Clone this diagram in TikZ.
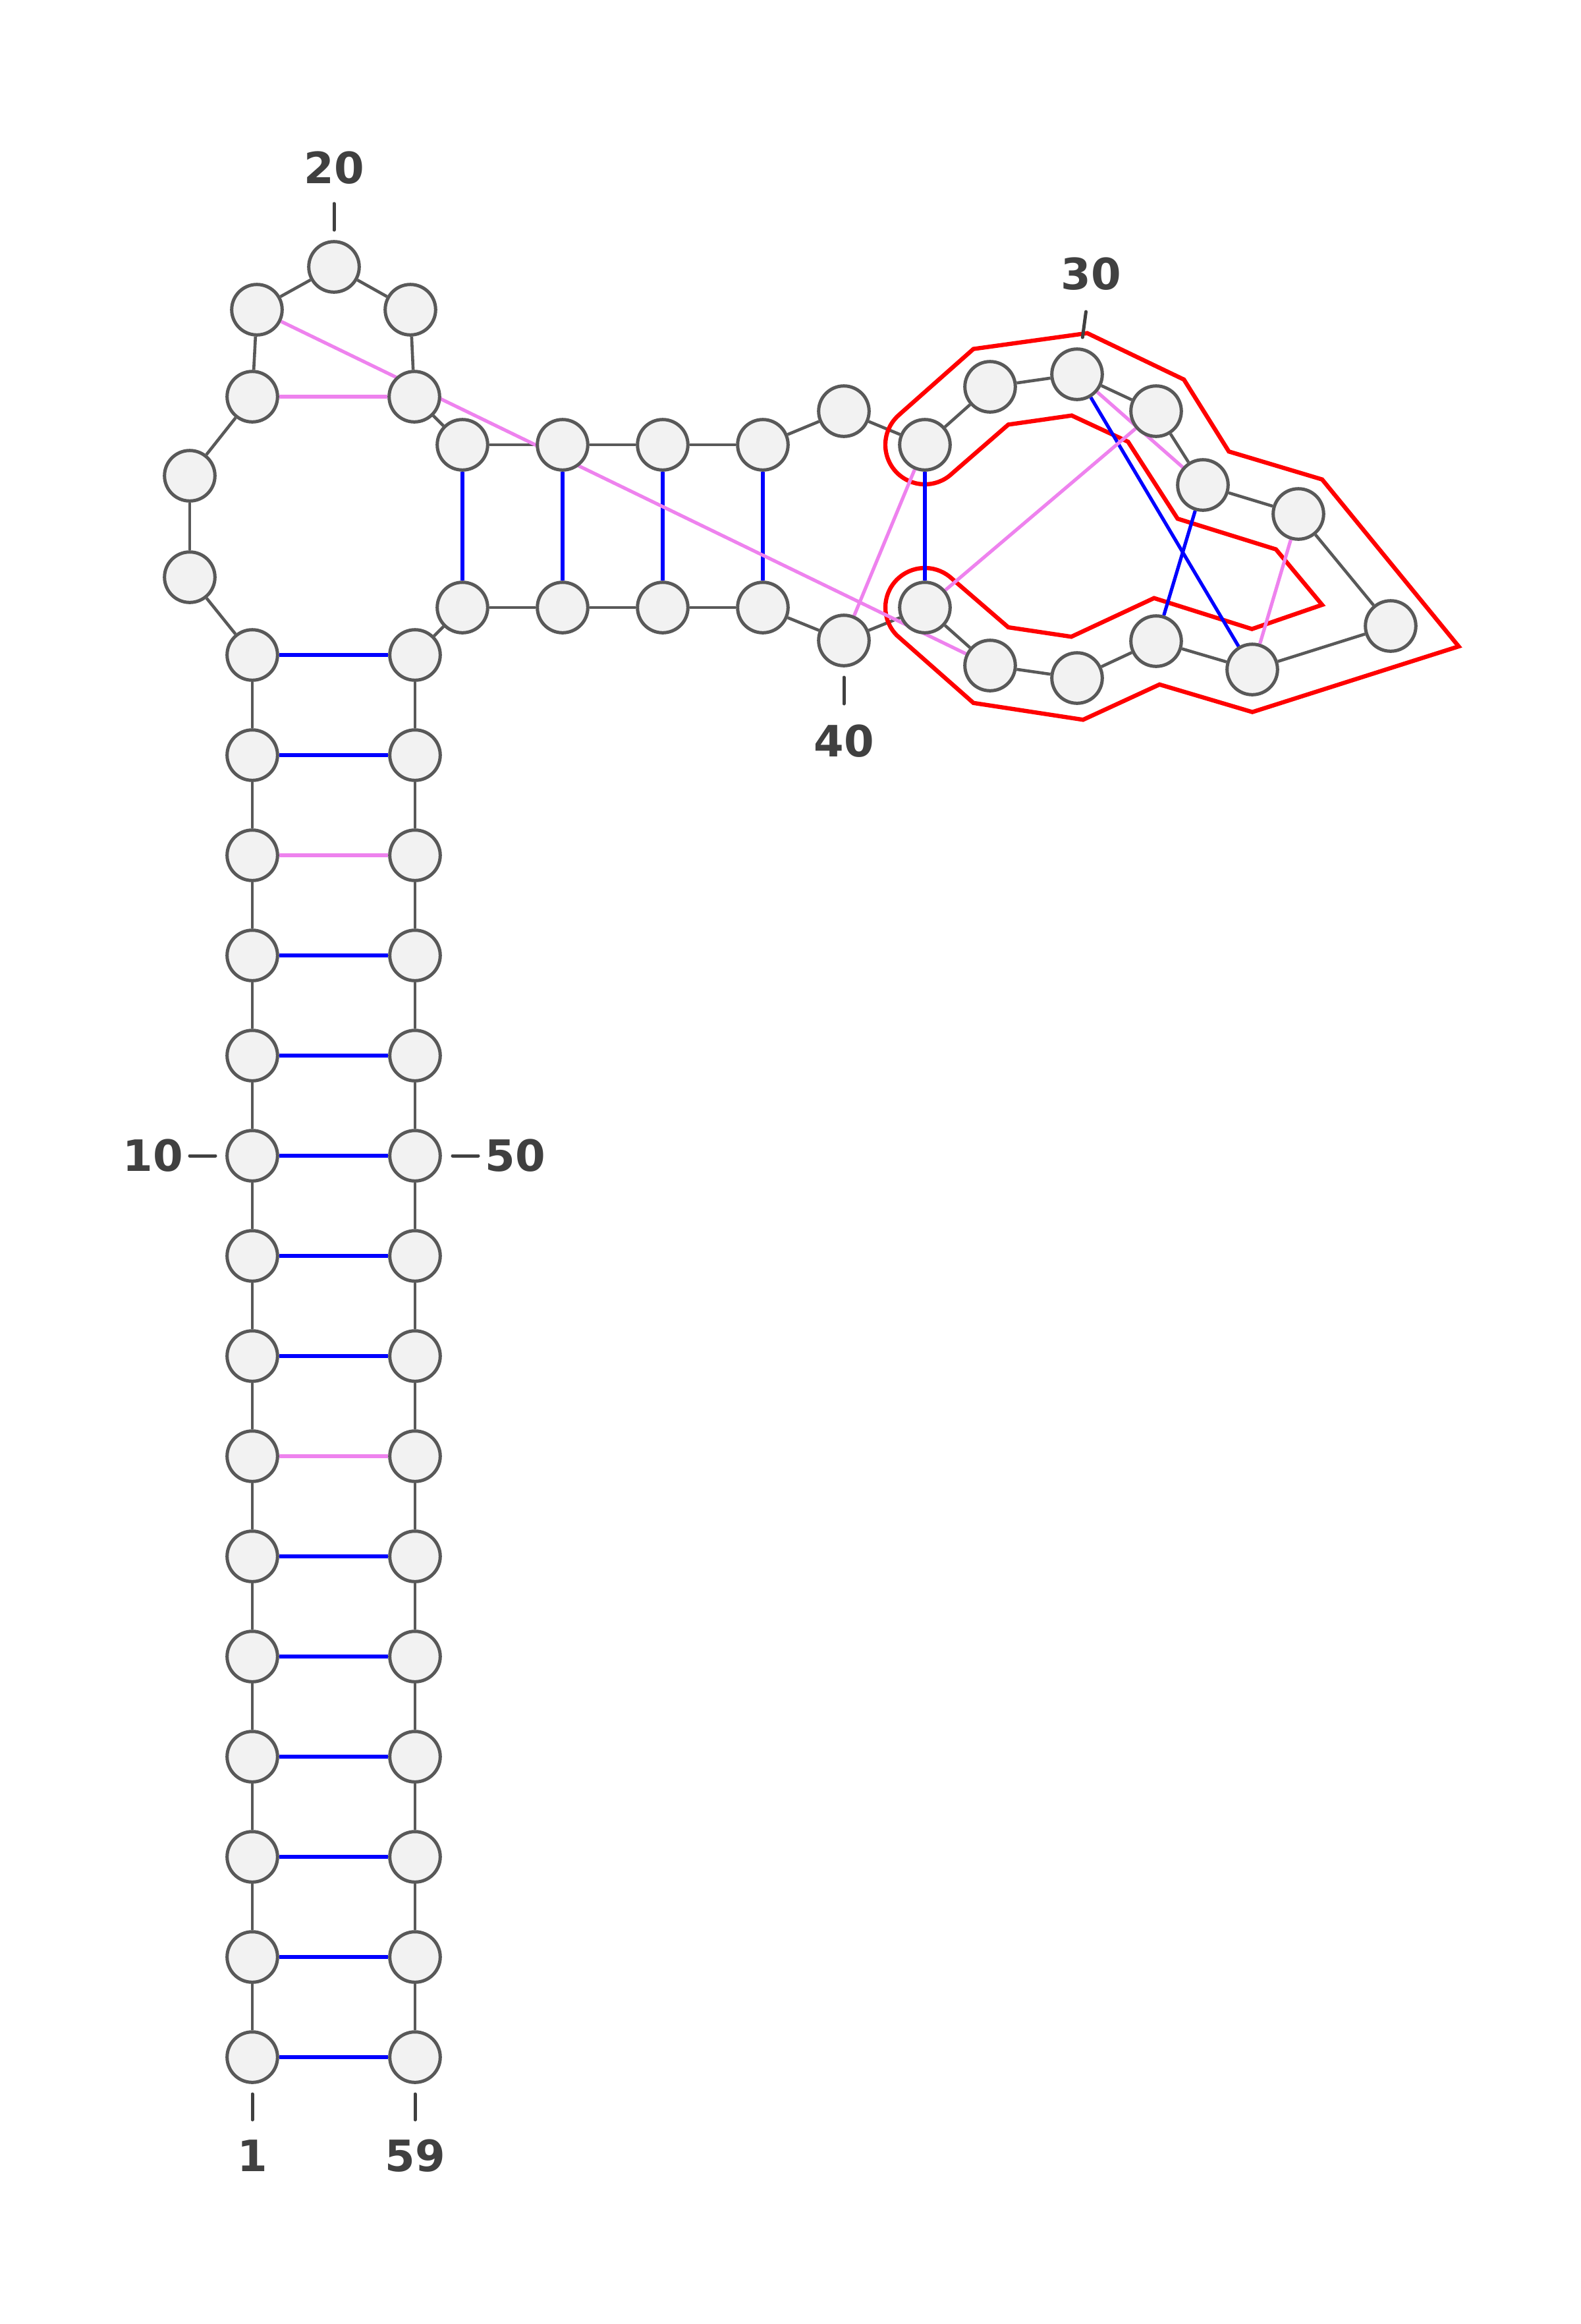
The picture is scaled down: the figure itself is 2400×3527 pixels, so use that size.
\documentclass[tikz,border=0pt]{standalone}
\usepackage{fontspec}
\newfontfamily\lblfont{DejaVu Sans}
\definecolor{nfill}{HTML}{F2F2F2}
\definecolor{ndraw}{HTML}{595959}
\definecolor{lblc}{HTML}{404040}
\definecolor{pblue}{HTML}{0000FF}
\definecolor{pviolet}{HTML}{EE82EE}
\definecolor{pred}{HTML}{FF0000}
\pgfdeclarelayer{bg}
\pgfsetlayers{bg,main}
\begin{document}
\begin{tikzpicture}[x=0.25pt,y=-0.25pt,
  nt/.style={circle,draw=ndraw,fill=nfill,line width=1.25pt,minimum size=19.15pt,inner sep=0pt},
  bb/.style={draw=ndraw,line width=1.15pt},
  wc/.style={draw=pblue,line width=1.3pt},
  nc/.style={draw=pviolet,line width=1.3pt},
  pk/.style={draw=pred,line width=1.6pt,line join=miter},
  tk/.style={draw=lblc,line width=1.25pt,line cap=round},
  lb/.style={text=lblc,font=\lblfont\bfseries\fontsize{16.4pt}{19pt}\selectfont,inner sep=0pt}]
\useasboundingbox (0,0) rectangle (2400,3527);
% nucleotides
\foreach \i in {1,...,15} \node[nt] (n\i) at (383,{3122-(\i-1)*152}) {};
\foreach \i in {45,...,59} \node[nt] (n\i) at (630,{994+(\i-45)*152}) {};
\node[nt] (n16) at (288,876) {};
\node[nt] (n17) at (288,722) {};
\node[nt] (n18) at (383,602) {};
\node[nt] (n19) at (390,470) {};
\node[nt] (n20) at (507,405) {};
\node[nt] (n21) at (623,470) {};
\node[nt] (n22) at (629,602) {};
\node[nt] (n23) at (702,675) {};
\node[nt] (n24) at (854,675) {};
\node[nt] (n25) at (1006,675) {};
\node[nt] (n26) at (1158,675) {};
\node[nt] (n27) at (1281,624) {};
\node[nt] (n28) at (1404,675) {};
\node[nt] (n29) at (1503,587) {};
\node[nt] (n30) at (1635,568) {};
\node[nt] (n31) at (1755,624) {};
\node[nt] (n32) at (1826,736) {};
\node[nt] (n33) at (1971,780) {};
\node[nt] (n34) at (2111,950) {};
\node[nt] (n35) at (1901,1016) {};
\node[nt] (n36) at (1755,973) {};
\node[nt] (n37) at (1635,1029) {};
\node[nt] (n38) at (1503,1010) {};
\node[nt] (n39) at (1404,922) {};
\node[nt] (n40) at (1281,972) {};
\node[nt] (n41) at (1158,922) {};
\node[nt] (n42) at (1006,922) {};
\node[nt] (n43) at (854,922) {};
\node[nt] (n44) at (702,922) {};
\begin{pgfonlayer}{bg}
\fill[white] (0,0) rectangle (2400,3527);
\foreach \i [evaluate=\i as \j using int(\i+1)] in {1,...,58} \draw[bb] (n\i) -- (n\j);
\draw[pk] (1365.4,629) -- (1477.7,529.6) -- (1650.5,505.6) -- (1797.2,576) -- (1865.4,685.2)
  -- (2007,727.6) -- (2214.3,981) -- (1901.1,1080.6) -- (1760.2,1038.8) -- (1644.1,1092.3)
  -- (1477.7,1066.8) -- (1361.6,964.4) arc[start angle=225,end angle=51,radius=15pt]
  -- (1530.6,952) -- (1626.3,966.3) -- (1751.9,907.7) -- (1900.5,954.6) -- (2007,917.9)
  -- (1936.9,833.7) -- (1787.6,787.2) -- (1712.4,670.4) -- (1626.9,630.6) -- (1530.6,644.4)
  -- (1444.9,718.9) arc[start angle=-47,end angle=-230,radius=15pt] -- cycle;
\foreach \a/\b/\s in {15/45/wc,14/46/wc,13/47/nc,12/48/wc,11/49/wc,10/50/wc,9/51/wc,8/52/wc,7/53/nc,6/54/wc,5/55/wc,4/56/wc,3/57/wc,2/58/wc,1/59/wc,23/44/wc,24/43/wc,25/42/wc,26/41/wc,28/39/wc,30/35/wc,32/36/wc,18/22/nc,19/38/nc,28/40/nc,31/39/nc,30/32/nc,33/35/nc}
  \draw[\s] (n\a) -- (n\b);
\end{pgfonlayer}
% ticks and labels
\coordinate (t1a) at (383,3178); \coordinate (t1b) at (383,3217);
\coordinate (t59a) at (630,3178); \coordinate (t59b) at (630,3217);
\coordinate (t10a) at (288,1754); \coordinate (t10b) at (327,1754);
\coordinate (t50a) at (687,1754); \coordinate (t50b) at (726,1754);
\coordinate (t20a) at (507,309); \coordinate (t20b) at (507,349);
\coordinate (t30a) at (1648.5,473); \coordinate (t30b) at (1643.3,512);
\coordinate (t40a) at (1281,1028); \coordinate (t40b) at (1281,1068);
\foreach \k in {1,59,10,50,20,30,40} \draw[tk] (t\k a) -- (t\k b);
\node[lb] (l1) at (383,3272) {1};
\node[lb] (l59) at (630,3272) {59};
\node[lb] (l10) at (232,1754) {10};
\node[lb] (l50) at (782,1754) {50};
\node[lb] (l20) at (507,255) {20};
\node[lb] (l30) at (1656,416) {30};
\node[lb] (l40) at (1281,1125) {40};
\end{tikzpicture}
\end{document}
